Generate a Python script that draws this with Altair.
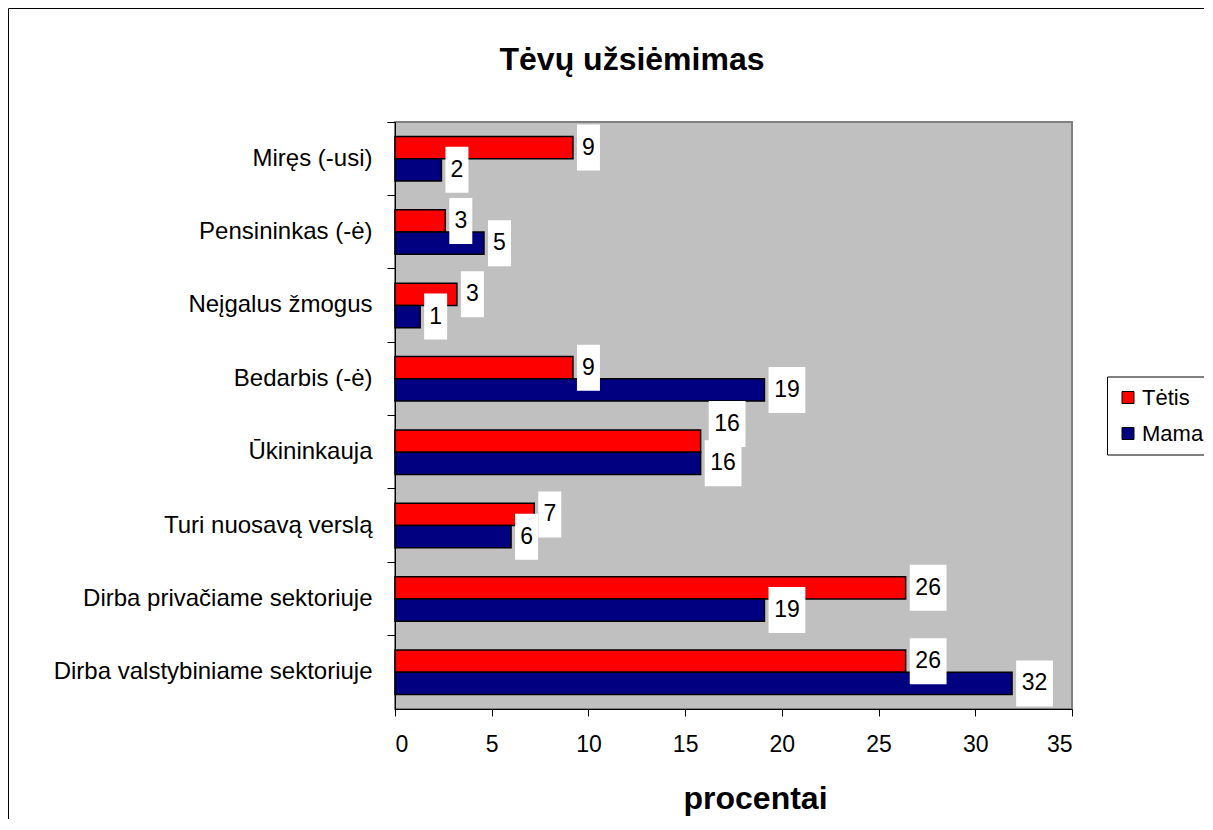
import altair as alt
import pandas as pd

# ---- data ----
categories = [
    "Miręs (-usi)",
    "Pensininkas (-ė)",
    "Neįgalus žmogus",
    "Bedarbis (-ė)",
    "Ūkininkauja",
    "Turi nuosavą verslą",
    "Dirba privačiame sektoriuje",
    "Dirba valstybiniame sektoriuje",
]
series_names = ["Tėtis", "Mama"]
tetis_values = [9.2, 2.6, 3.2, 9.2, 15.8, 7.2, 26.4, 26.4]
mama_values = [2.4, 4.6, 1.3, 19.1, 15.8, 6.0, 19.1, 31.9]
tetis_labels = ["9", "3", "3", "9", "16", "7", "26", "26"]
mama_labels = ["2", "5", "1", "19", "16", "6", "19", "32"]
x_ticks = [0, 5, 10, 15, 20, 25, 30, 35]
title_text = "Tėvų užsiėmimas"
x_title = "procentai"

rows = []
for i, c in enumerate(categories):
    rows.append({"category": c, "series": "Tėtis", "value": tetis_values[i], "label": tetis_labels[i]})
    rows.append({"category": c, "series": "Mama", "value": mama_values[i], "label": mama_labels[i]})
df = pd.DataFrame(rows)

FONT = "Liberation Sans, Arial, sans-serif"
W, H = 677, 587

# the one label that the reference nudges upwards (Ūkininkauja / Tėtis)
IS_NUDGED = "datum.category == 'Ūkininkauja' && datum.series == 'Tėtis'"
ONE = "length(datum.label) == 1"
TWO = "length(datum.label) == 2"

y_enc = alt.Y(
    "category:N",
    sort=categories,
    scale=alt.Scale(paddingInner=0, paddingOuter=0),
    axis=alt.Axis(
        title=None,
        labelFont=FONT,
        labelFontSize=24,
        labelColor="black",
        labelLimit=0,
        labelPadding=15,
        tickSize=8,
        tickColor="black",
        domainColor="black",
        bandPosition=0,
        tickExtra=True,
    ),
)
y_plain = alt.Y("category:N", sort=categories)
yo = alt.YOffset("series:N", sort=series_names, scale=alt.Scale(paddingInner=0, paddingOuter=0.653))
yo_plain = alt.YOffset("series:N", sort=series_names)

x_enc = alt.X(
    "value:Q",
    scale=alt.Scale(domain=[0, 35], nice=False, zero=True),
    axis=alt.Axis(
        values=x_ticks,
        grid=False,
        title=x_title,
        titleFont=FONT,
        titleFontSize=32,
        titleFontWeight="bold",
        titleColor="black",
        titleX=360,
        titleY=99,
        titleBaseline="alphabetic",
        titleAlign="center",
        labelFont=FONT,
        labelFontSize=23,
        labelColor="black",
        labelPadding=17,
        tickSize=7,
        tickColor="black",
        domainColor="black",
    ),
)
x_plain = alt.X("value:Q")

bars = alt.Chart(df).mark_bar(stroke="black", strokeWidth=1.5).encode(
    x=x_enc,
    y=y_enc,
    yOffset=yo,
    color=alt.Color(
        "series:N",
        sort=series_names,
        scale=alt.Scale(domain=series_names, range=["#FF0000", "#000080"]),
        legend=alt.Legend(
            title=None,
            orient="none",
            legendX=712,
            legendY=254.5,
            direction="vertical",
            symbolType="square",
            symbolSize=144,
            symbolStrokeColor="black",
            symbolStrokeWidth=1,
            symbolOpacity=1,
            labelFont=FONT,
            labelFontSize=22,
            labelColor="black",
            labelOffset=3,
            padding=10,
            rowPadding=14,
            strokeColor="black",
            fillColor="white",
        ),
    ),
)

BOX1 = "M-0.5,-1L0.5,-1L0.5,1L-0.5,1Z"
BOX2 = "M-0.8,-1L0.8,-1L0.8,1L-0.8,1Z"


def boxes(flt, path, xoff):
    return alt.Chart(df).transform_filter(flt).mark_point(
        shape=path, size=2116, filled=True, color="white", opacity=1, strokeWidth=0, xOffset=xoff,
    ).encode(x=x_plain, y=y_plain, yOffset=yo_plain)


def texts(flt, xoff, dy=0):
    return alt.Chart(df).transform_filter(flt).mark_text(
        align="center", baseline="middle", font=FONT, fontSize=23, color="black", xOffset=xoff, dy=dy,
    ).encode(x=x_plain, y=y_plain, yOffset=yo_plain, text="label:N")


box1 = boxes(ONE, BOX1, 15.5)
box2 = boxes(f"{TWO} && !({IS_NUDGED})", BOX2, 22.5)
box_n = boxes(IS_NUDGED, "M-0.8,-1.74L0.8,-1.74L0.8,0.26L-0.8,0.26Z", 26.5)
txt1 = texts(ONE, 15.5)
txt2 = texts(f"{TWO} && !({IS_NUDGED})", 22.5)
txt_n = texts(IS_NUDGED, 26.5, dy=-17)

title = alt.Chart(pd.DataFrame({"t": [title_text]})).mark_text(
    align="center", baseline="middle", font=FONT, fontSize=32, fontWeight="bold", color="black",
).encode(x=alt.value(237), y=alt.value(-62), text="t:N")

frame = alt.Chart(pd.DataFrame({"k": [0]})).mark_rect(
    filled=False, stroke="black", strokeWidth=1,
).encode(x=alt.value(-386.5), x2=alt.value(W + 300), y=alt.value(-113.5), y2=alt.value(H + 300))

chart = (
    alt.layer(bars, box1, box2, box_n, txt1, txt2, txt_n, title, frame)
    .properties(
        width=W,
        height=H,
        padding={"left": 387, "top": 114, "right": 132, "bottom": 110},
        autosize=alt.AutoSizeParams(type="none"),
        background="white",
    )
    .configure_view(fill="#C0C0C0", stroke="#808080", strokeWidth=2)
)

chart.save("out.html", embed_options={"renderer": "svg", "actions": False})
